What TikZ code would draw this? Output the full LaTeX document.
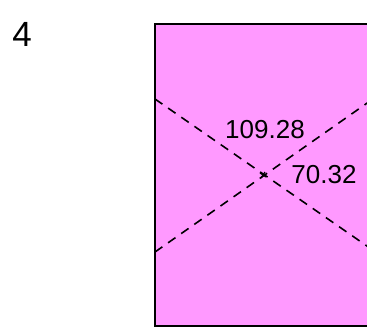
\documentclass[tikz,border=0pt]{standalone}
\usepackage{fontspec}
\setmainfont{Liberation Sans}
\usetikzlibrary{positioning}

\definecolor{panelpink}{HTML}{FF99FF}

\tikzset{
  panel/.style={draw=black, line width=1.8pt, fill=panelpink},
  diag/.style={black, line width=1.6pt, dash pattern=on 9pt off 7pt},
  num/.style={inner sep=0pt, font=\fontsize{26}{26}\selectfont},
}

\begin{document}
\begin{tikzpicture}[x=1pt, y=-1pt]
  \useasboundingbox[clip] (0,0) rectangle (367,327);

  % Panel
  \draw[panel] (155,24) rectangle (390,326);

  % Nodes
  \coordinate (C) at (263,175);
  \coordinate (L1) at (155,99);
  \coordinate (R1) at (390,262);
  \coordinate (L2) at (155,252);
  \coordinate (R2) at (390,87);
  \node[inner sep=0pt, font=\fontsize{35}{35}\selectfont] (idx) at (22,34) {4};
  \node[num] (big) at (265,130) {109.28};
  \node[num] (small) at (324,175) {70.32};

  % Edges
  \draw[diag] (L1) -- (R1);
  \draw[diag] (L2) -- (R2);
  \draw[line width=1.2pt] ([shift={(-3,-2)}]C) -- ([shift={(3,2)}]C);
  \draw[line width=1.2pt] ([shift={(-2,3)}]C) -- ([shift={(2,-3)}]C);
\end{tikzpicture}
\end{document}
